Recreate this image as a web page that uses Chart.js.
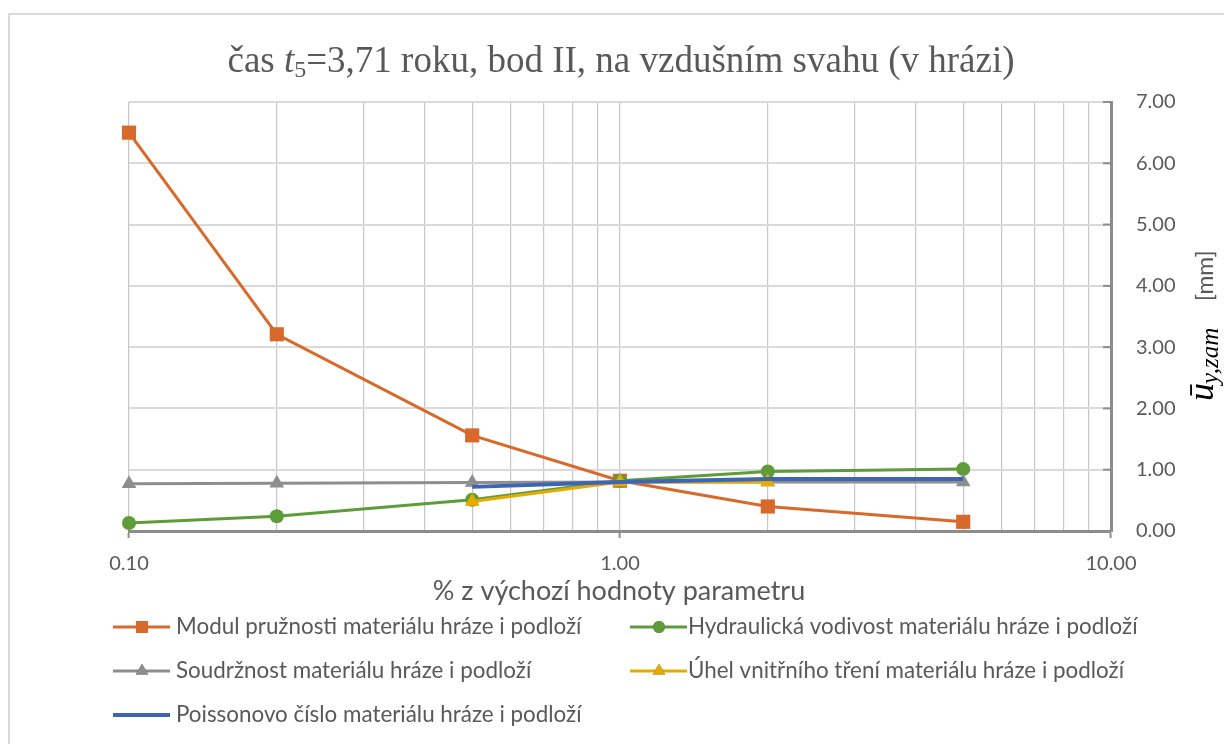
<!DOCTYPE html>
<html><head><meta charset="utf-8">
<script src="https://cdn.jsdelivr.net/npm/chart.js@4.4.1/dist/chart.umd.min.js"></script>
<style>html,body{margin:0;padding:0;background:#fff;}#wrap{width:1224px;height:744px;position:relative;}</style>
</head><body><div id="wrap"><canvas id="c" width="1224" height="744"></canvas></div>
<script>
const xValues = [0.1, 0.2, 0.5, 1, 2, 5];
const modulValues = [6.50, 3.21, 1.56, 0.82, 0.40, 0.15];
const hydraulValues = [0.13, 0.24, 0.51, 0.82, 0.97, 1.01];
const soudrzValues = [0.77, 0.78, 0.79, 0.80, 0.80, 0.80];
const uhelX = [0.5, 1, 2];
const uhelValues = [0.48, 0.80, 0.80];
const poissonX = [0.5, 1, 2, 5];
const poissonValues = [0.72, 0.80, 0.85, 0.85];
const xTickLabels = {0.1: '0.10', 1: '1.00', 10: '10.00'};
const seriesNames = ['Modul pružnosti materiálu hráze i podloží','Hydraulická vodivost materiálu hráze i podloží','Soudržnost materiálu hráze i podloží','Úhel vnitřního tření materiálu hráze i podloží','Poissonovo číslo materiálu hráze i podloží'];
const xTitle = '% z výchozí hodnoty parametru';

const pts = (xs, ys) => xs.map((x, i) => ({x, y: ys[i]}));
const C = {orange:'#D8692A', green:'#5E9C3A', gray:'#8E8E8E', yellow:'#E5AC00', blue:'#3C66B3'};
const SANS = "Lato, 'Liberation Sans', sans-serif";
const SERIF = "'Liberation Serif', 'DejaVu Serif', serif";

const datasets = [
 {label:seriesNames[0], data:pts(xValues, modulValues), borderColor:C.orange, backgroundColor:C.orange, pointStyle:'rect', pointRadius:10, borderWidth:3},
 {label:seriesNames[1], data:pts(xValues, hydraulValues), borderColor:C.green, backgroundColor:C.green, pointStyle:'circle', pointRadius:7, borderWidth:3},
 {label:seriesNames[2], data:pts(xValues, soudrzValues), borderColor:C.gray, backgroundColor:C.gray, pointStyle:'triangle', pointRadius:8.5, borderWidth:3},
 {label:seriesNames[3], data:pts(uhelX, uhelValues), borderColor:C.yellow, backgroundColor:C.yellow, pointStyle:'triangle', pointRadius:8.5, borderWidth:3},
 {label:seriesNames[4], data:pts(poissonX, poissonValues), borderColor:C.blue, backgroundColor:C.blue, pointStyle:false, pointRadius:0, borderWidth:4}
];
datasets.forEach((d,i)=>{d.showLine=true; d.fill=false; d.tension=0; d.pointBorderWidth=0; d.order=-i; d.clip=false;});

const majorSet = new Set([0.1, 1, 10]);

function fitFont(ctx, text, style, family, target){
 ctx.font = style + ' 20px ' + family;
 const w = ctx.measureText(text).width;
 return 20 * target / w;
}

const decor = {
 id:'decor',
 beforeDraw(chart){
  const ctx = chart.ctx;
  ctx.save();
  ctx.fillStyle='#fff'; ctx.fillRect(0,0,chart.width,chart.height);
  ctx.strokeStyle='#d9d9d9'; ctx.lineWidth=2;
  ctx.strokeRect(9,14,1260,800);
  ctx.restore();
 },
 afterDraw(chart){
  const ctx = chart.ctx; const ca = chart.chartArea;
  const ys = chart.scales.y;
  ctx.save();
  ctx.strokeStyle='#8c8c8c'; ctx.lineWidth=2;
  for(let v=0; v<=7; v++){
   const y = ys.getPixelForValue(v);
   ctx.beginPath(); ctx.moveTo(ca.right-8, y); ctx.lineTo(ca.right, y); ctx.stroke();
  }
  const tY = 62, ts = 37;
  const parts = [
   {t:'čas ', f:ts+"px " + SERIF, dy:0},
   {t:'t', f:"italic "+ts+"px " + SERIF, dy:0},
   {t:'5', f:Math.round(ts*0.66)+"px " + SERIF, dy:9},
   {t:'=3,71 roku, bod II, na vzdušním svahu (v hrázi)', f:ts+"px " + SERIF, dy:0}
  ];
  let tw = 0; parts.forEach(p=>{ctx.font=p.f; p.w=ctx.measureText(p.t).width; tw+=p.w;});
  let x = 621 - tw/2;
  ctx.fillStyle='#595959'; ctx.textBaseline='middle'; ctx.textAlign='left';
  parts.forEach(p=>{ctx.font=p.f; ctx.fillText(p.t, x, tY+p.dy); x+=p.w;});
  const xs = fitFont(ctx, xTitle, '', SANS, 373);
  ctx.font = xs.toFixed(1) + "px " + SANS; ctx.textAlign='center';
  ctx.fillText(xTitle, 619, 591);
  ctx.save();
  ctx.translate(1205, 401);
  ctx.rotate(-Math.PI/2);
  ctx.textAlign='left'; ctx.textBaseline='alphabetic';
  ctx.font = "italic 36px " + SERIF; ctx.fillStyle='#000';
  ctx.fillText('ū', 0, 8);
  const uw = ctx.measureText('ū').width;
  ctx.font = "italic 25px " + SERIF;
  ctx.fillText('y,zam', uw - 1, 13);
  ctx.font = "23px " + SANS; ctx.fillStyle='#595959';
  ctx.fillText('[mm]', 100, 8);
  ctx.restore();
  const rows = [627, 671, 715];
  const cols = [{ix:113, tx:176}, {ix:630, tx:688}];
  const ls = fitFont(ctx, seriesNames[0], '', SANS, 406);
  ctx.font = ls.toFixed(1) + "px " + SANS; ctx.textBaseline='middle'; ctx.textAlign='left';
  chart.data.datasets.forEach((d,i)=>{
   const col = cols[i%2], y = rows[Math.floor(i/2)];
   ctx.strokeStyle=d.borderColor; ctx.lineWidth=d.borderWidth;
   ctx.beginPath(); ctx.moveTo(col.ix, y); ctx.lineTo(col.ix+57, y); ctx.stroke();
   if(d.pointStyle){
    Chart.helpers.drawPoint(ctx, {pointStyle:d.pointStyle, radius:d.pointRadius*0.85, rotation:0, borderWidth:0}, col.ix+29, y);
    ctx.fillStyle=d.backgroundColor; ctx.fill();
   }
   ctx.fillStyle='#595959';
   ctx.fillText(d.label, col.tx, y);
  });
  ctx.restore();
 }
};

new Chart(document.getElementById('c'), {
 type:'scatter',
 data:{datasets},
 options:{
  responsive:false, animation:false, devicePixelRatio:1,
  layout:{padding:{left:129, top:102, right:0, bottom:0}},
  plugins:{legend:{display:false}, title:{display:false}, tooltip:{enabled:false}},
  scales:{
   x:{type:'logarithmic', min:0.1, max:10,
    afterBuildTicks(s){ const t=[]; [0.1,1].forEach(d=>{for(let k=1;k<10;k++) t.push({value:+(d*k).toFixed(2)});}); t.push({value:10}); s.ticks=t; },
    afterFit(s){ s.height = 213; },
    ticks:{autoSkip:false, maxRotation:0, minRotation:0, padding:14, color:'#595959', font:{family:SANS, size:20},
      callback(v){ return xTickLabels[+(+v).toFixed(2)] || ''; }},
    grid:{color:'#c6c6c6', lineWidth:1.2, drawTicks:true, tickLength:7,
      tickColor(ctx){ return majorSet.has(+(+ctx.tick.value).toFixed(2)) ? '#8c8c8c' : 'rgba(0,0,0,0)'; }, tickWidth:2},
    border:{color:'#8c8c8c', width:3}
   },
   y:{position:'right', min:0, max:7,
    afterFit(s){ s.width = 113; },
    ticks:{stepSize:1, padding:25, color:'#595959', font:{family:SANS, size:20}, callback(v){ return (+v).toFixed(2); }},
    grid:{color:'#dadada', lineWidth:2, drawTicks:false},
    border:{color:'#8c8c8c', width:3}
   }
  }
 },
 plugins:[decor]
});
</script></body></html>
